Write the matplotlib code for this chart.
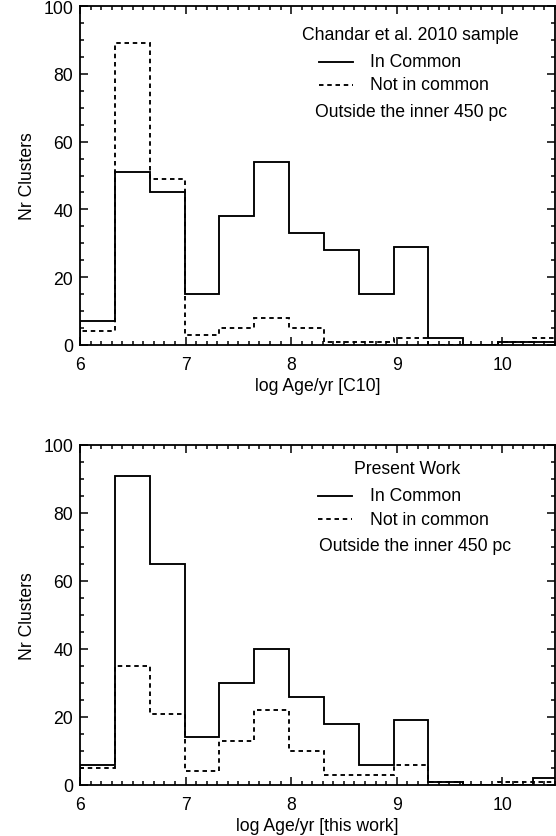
import numpy as np
import matplotlib
matplotlib.use("Agg")
import matplotlib.pyplot as plt
from matplotlib.ticker import MultipleLocator

# Histogram bins in log(Age/yr)
bin_start = 6.0
bin_width = 0.33
n_bins = 14

# Chandar et al. 2010 sample (ages from C10)
c10_common = [7, 51, 45, 15, 38, 54, 33, 28, 15, 29, 2, 0, 1, 1]
c10_not_common = [4, 89, 49, 3, 5, 8, 5, 1, 1, 2, 0, 0, 1, 2]

# Present work (ages from this work)
pw_common = [6, 91, 65, 14, 30, 40, 26, 18, 6, 19, 1, 0, 0, 2]
pw_not_common = [5, 35, 21, 4, 13, 22, 10, 3, 3, 6, 1, 0, 1, 1]

panel_titles = ["Chandar et al. 2010 sample", "Present Work"]
x_labels = ["log Age/yr [C10]", "log Age/yr [this work]"]
y_label = "Nr Clusters"

edges = bin_start + bin_width * np.arange(n_bins + 1)

plt.rcParams["font.family"] = ["Liberation Sans", "DejaVu Sans"]
plt.rcParams["font.size"] = 12.7

W, H = 556, 837
fig = plt.figure(figsize=(W / 100, H / 100), dpi=100)

LW = 1.35
DASH = (2.4, 2.0)


def px_axes(left, top, right, bottom):
    return fig.add_axes([left / W, (H - bottom) / H, (right - left) / W, (bottom - top) / H])


def style(ax):
    ax.set_xlim(6, 10.5)
    ax.set_ylim(0, 100)
    ax.xaxis.set_major_locator(MultipleLocator(1))
    ax.xaxis.set_minor_locator(MultipleLocator(0.1))
    ax.yaxis.set_major_locator(MultipleLocator(20))
    ax.yaxis.set_minor_locator(MultipleLocator(5))
    ax.tick_params(which="both", direction="in", top=True, right=True, width=1.1,
                   labelsize=12.7, color="black")
    ax.tick_params(axis="x", which="major", length=6.0, pad=8)
    ax.tick_params(axis="y", which="major", length=6.0, pad=5)
    ax.tick_params(which="minor", length=3.0)
    for s in ax.spines.values():
        s.set_linewidth(1.3)


def legend_block(ax, title, tx, ty, lx0, lx1, textx, y1, y2, ox, oy):
    ax.text(tx, ty, title, transform=ax.transAxes, ha="center", va="center")
    ax.plot([lx0, lx1], [y1, y1], transform=ax.transAxes, color="black", lw=LW)
    ax.plot([lx0, lx1], [y2, y2], transform=ax.transAxes, color="black", lw=LW,
            linestyle=(0, DASH))
    ax.text(textx, y1, "In Common", transform=ax.transAxes, ha="left", va="center")
    ax.text(textx, y2, "Not in common", transform=ax.transAxes, ha="left", va="center")
    ax.text(ox, oy, "Outside the inner 450 pc", transform=ax.transAxes,
            ha="center", va="center")


# Upper panel
ax1 = px_axes(80, 7, 555, 346)
ax1.stairs(c10_common, edges, baseline=0, color="black", lw=LW)
ax1.stairs(c10_not_common, edges, baseline=0, color="black", lw=LW, linestyle=(0, DASH))
style(ax1)
ax1.set_xlabel(x_labels[0], labelpad=2.5)
ax1.set_ylabel(y_label, labelpad=5)
legend_block(ax1, panel_titles[0], 0.696, 0.917, 0.503, 0.575, 0.611, 0.835, 0.767, 0.696, 0.690)

# Lower panel
ax2 = px_axes(80, 446, 555, 786)
ax2.stairs(pw_common, edges, baseline=0, color="black", lw=LW)
ax2.stairs(pw_not_common, edges, baseline=0, color="black", lw=LW, linestyle=(0, DASH))
style(ax2)
ax2.set_xlabel(x_labels[1], labelpad=2.5)
ax2.set_ylabel(y_label, labelpad=5)
legend_block(ax2, panel_titles[1], 0.688, 0.931, 0.500, 0.572, 0.611, 0.851, 0.782, 0.705, 0.704)

fig.savefig("out.png", dpi=100)
